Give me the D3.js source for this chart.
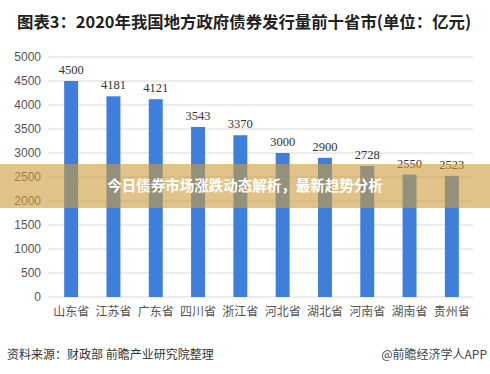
<!DOCTYPE html>
<html>
<head>
<meta charset="utf-8">
<script src="https://cdn.jsdelivr.net/npm/d3@7"></script>
<style>
  body { margin: 0; background: #fff; }
  svg { display: block; }
</style>
</head>
<body>
<div id="chart"></div>
<script>
// chart data
var provinces = ['山东省', '江苏省', '广东省', '四川省', '浙江省', '河北省', '湖北省', '河南省', '湖南省', '贵州省']
var issuance = [4500, 4181, 4121, 3543, 3370, 3000, 2900, 2728, 2550, 2523]
var yTicks = [0, 500, 1000, 1500, 2000, 2500, 3000, 3500, 4000, 4500, 5000]

var titleText = '图表3：2020年我国地方政府债券发行量前十省市(单位：亿元)'
var sourceText = '资料来源：财政部 前瞻产业研究院整理'
var brandText = '@前瞻经济学人APP'
var bannerText = '今日债券市场涨跌动态解析，最新趋势分析'

var W = 490, H = 374
var margin = { top: 57, right: 17, bottom: 77, left: 50 }
var width = W - margin.left - margin.right,
  height = H - margin.top - margin.bottom

var cjk = "'Noto Sans CJK SC', 'Noto Sans', sans-serif"

var svg = d3.select('#chart').append('svg')
  .attr('width', W)
  .attr('height', H)

// title
svg.append('text')
  .attr('x', 17).attr('y', 28)
  .attr('font-family', cjk)
  .attr('font-weight', 'bold')
  .attr('font-size', 16.4)
  .attr('fill', '#222')
  .text(titleText)

var g = svg.append('g')
  .attr('transform', 'translate(' + margin.left + ',' + margin.top + ')')

var x = d3.scaleBand().domain(provinces).range([0, width]).paddingInner(0.67).paddingOuter(0.335)
var y = d3.scaleLinear().domain([0, 5000]).range([height, 0])

// gridlines
g.selectAll('line.grid')
  .data(yTicks)
  .enter()
  .append('line')
  .attr('class', 'grid')
  .attr('x1', -2).attr('x2', width)
  .attr('y1', function (d) { return y(d) })
  .attr('y2', function (d) { return y(d) })
  .attr('stroke', '#d9d9d9')
  .attr('stroke-width', 1)

// y axis labels
var yAxis = g.append('g')
  .call(d3.axisLeft(y).tickValues(yTicks).tickFormat(d3.format('d')).tickSize(0).tickPadding(9))
yAxis.select('.domain').remove()
yAxis.selectAll('text')
  .attr('font-family', "'Liberation Sans', 'DejaVu Sans', sans-serif")
  .attr('font-size', 12)
  .attr('fill', '#555')

// x axis labels
var xAxis = g.append('g')
  .attr('transform', 'translate(0,' + height + ')')
  .call(d3.axisBottom(x).tickSize(0).tickPadding(10))
xAxis.select('.domain').remove()
xAxis.selectAll('text')
  .attr('font-family', cjk)
  .attr('font-size', 12)
  .attr('fill', '#555')

// bars
g.selectAll('rect.bar')
  .data(issuance)
  .enter()
  .append('rect')
  .attr('class', 'bar')
  .attr('x', function (d, i) { return x(provinces[i]) })
  .attr('y', function (d) { return y(d) })
  .attr('width', x.bandwidth())
  .attr('height', function (d) { return height - y(d) })
  .attr('fill', '#3d7fda')

// value labels
g.selectAll('text.val')
  .data(issuance)
  .enter()
  .append('text')
  .attr('class', 'val')
  .attr('x', function (d, i) { return x(provinces[i]) + x.bandwidth() / 2 })
  .attr('y', function (d) { return y(d) - 7 })
  .attr('text-anchor', 'middle')
  .attr('font-family', "'Liberation Serif', 'DejaVu Serif', serif")
  .attr('font-size', 12.5)
  .attr('fill', '#333')
  .text(function (d) { return d })

// overlay banner
svg.append('rect')
  .attr('x', 0).attr('y', 164)
  .attr('width', W).attr('height', 44)
  .attr('fill', 'rgb(205,155,60)')
  .attr('fill-opacity', 0.6)

svg.append('text')
  .attr('x', 245).attr('y', 191)
  .attr('text-anchor', 'middle')
  .attr('font-family', cjk)
  .attr('font-weight', 'bold')
  .attr('font-size', 14.5)
  .attr('fill', '#fff')
  .text(bannerText)

// footer
svg.append('text')
  .attr('x', 7).attr('y', 359)
  .attr('font-family', cjk)
  .attr('font-size', 12)
  .attr('fill', '#333')
  .text(sourceText)

svg.append('text')
  .attr('x', 487).attr('y', 359)
  .attr('text-anchor', 'end')
  .attr('font-family', cjk)
  .attr('font-size', 12)
  .attr('fill', '#444')
  .text(brandText)
</script>
</body>
</html>
